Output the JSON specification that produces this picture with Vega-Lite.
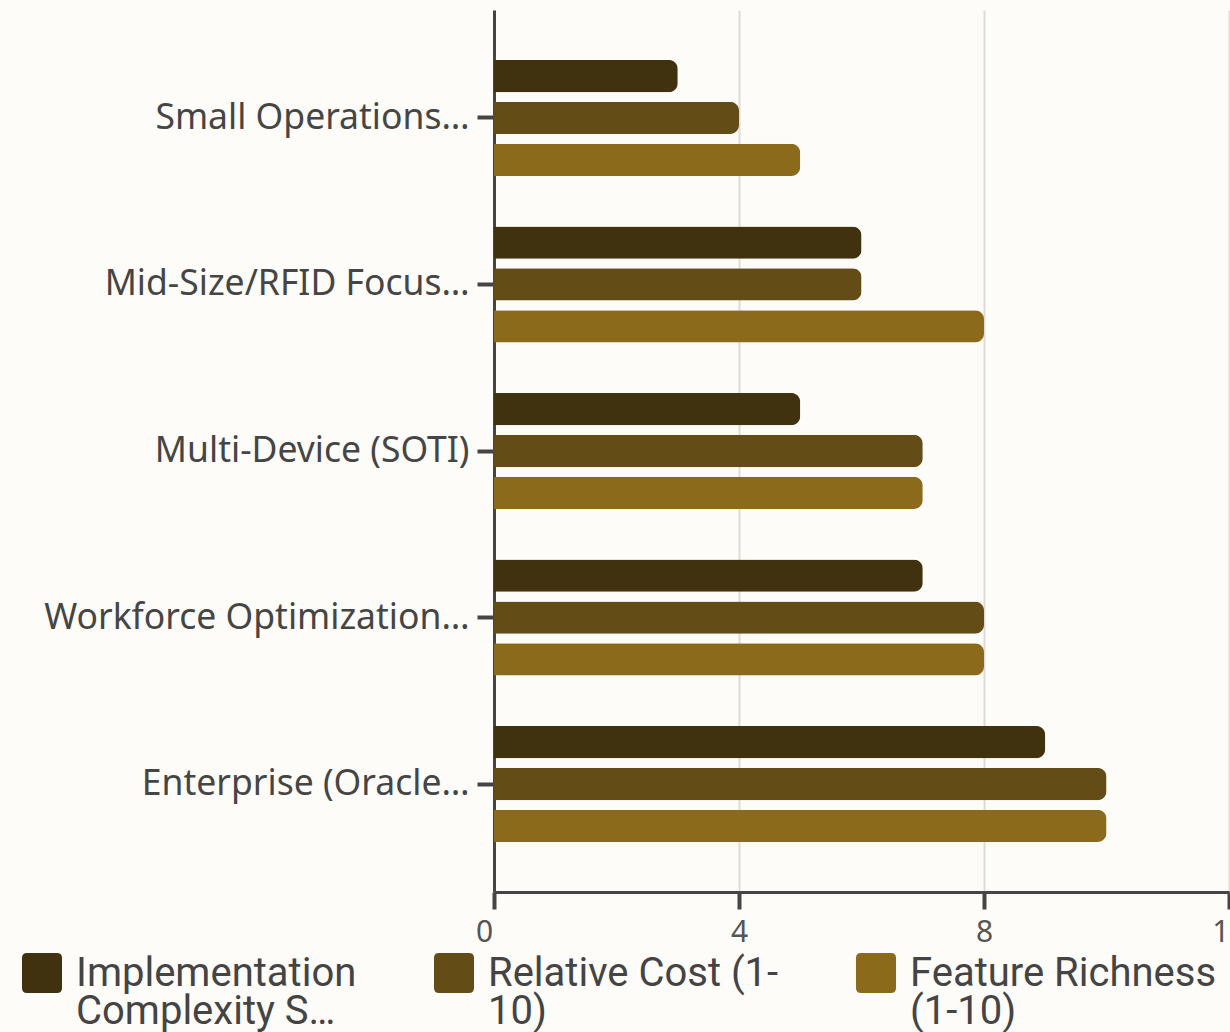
{
  "$schema": "https://vega.github.io/schema/vega-lite/v6.json",
  "width": 735,
  "height": 882,
  "autosize": "none",
  "padding": {"left": 494, "top": 10, "right": 1, "bottom": 140},
  "background": "#fdfcf9",
  "data": {
    "values": [
      {"cat": "Small Operations…", "series": "Implementation Complexity Score (1-10)", "v": 3},
      {"cat": "Small Operations…", "series": "Relative Cost (1-10)", "v": 4},
      {"cat": "Small Operations…", "series": "Feature Richness (1-10)", "v": 5},
      {"cat": "Mid-Size/RFID Focus…", "series": "Implementation Complexity Score (1-10)", "v": 6},
      {"cat": "Mid-Size/RFID Focus…", "series": "Relative Cost (1-10)", "v": 6},
      {"cat": "Mid-Size/RFID Focus…", "series": "Feature Richness (1-10)", "v": 8},
      {"cat": "Multi-Device (SOTI)", "series": "Implementation Complexity Score (1-10)", "v": 5},
      {"cat": "Multi-Device (SOTI)", "series": "Relative Cost (1-10)", "v": 7},
      {"cat": "Multi-Device (SOTI)", "series": "Feature Richness (1-10)", "v": 7},
      {"cat": "Workforce Optimization…", "series": "Implementation Complexity Score (1-10)", "v": 7},
      {"cat": "Workforce Optimization…", "series": "Relative Cost (1-10)", "v": 8},
      {"cat": "Workforce Optimization…", "series": "Feature Richness (1-10)", "v": 8},
      {"cat": "Enterprise (Oracle…", "series": "Implementation Complexity Score (1-10)", "v": 9},
      {"cat": "Enterprise (Oracle…", "series": "Relative Cost (1-10)", "v": 10},
      {"cat": "Enterprise (Oracle…", "series": "Feature Richness (1-10)", "v": 10}
    ]
  },
  "mark": {"type": "bar", "cornerRadiusEnd": 9},
  "encoding": {
    "y": {
      "field": "cat", "type": "nominal",
      "sort": ["Small Operations…", "Mid-Size/RFID Focus…", "Multi-Device (SOTI)", "Workforce Optimization…", "Enterprise (Oracle…"],
      "scale": {"paddingInner": 0.303, "paddingOuter": 0.3},
      "axis": {
        "title": null,
        "labelFont": "Noto Sans", "labelFontSize": 35.5, "labelColor": "#454545",
        "labelPadding": 8, "labelLimit": 500,
        "tickSize": 17, "tickWidth": 4, "tickColor": "#454545",
        "domainColor": "#454545", "domainWidth": 3
      }
    },
    "yOffset": {
      "field": "series", "type": "nominal",
      "sort": ["Implementation Complexity Score (1-10)", "Relative Cost (1-10)", "Feature Richness (1-10)"],
      "scale": {"paddingInner": 0.23, "paddingOuter": 0}
    },
    "x": {
      "field": "v", "type": "quantitative",
      "scale": {"domain": [0, 12], "nice": false},
      "axis": {
        "title": null, "values": [0, 4, 8, 12],
        "labelFont": "Noto Sans", "labelFontSize": 30, "labelColor": "#555555",
        "labelPadding": 8, "labelOverlap": false, "labelFlush": false,
        "labelOffset": {"condition": {"test": "datum.value === 0", "value": -10}, "value": 0},
        "tickSize": 17, "tickWidth": 4, "tickColor": "#454545",
        "domainColor": "#454545", "domainWidth": 3,
        "gridColor": "#dedbd5", "gridWidth": 2
      }
    },
    "color": {
      "field": "series", "type": "nominal",
      "sort": ["Implementation Complexity Score (1-10)", "Relative Cost (1-10)", "Feature Richness (1-10)"],
      "scale": {"range": ["#40320e", "#644c16", "#8b6a1c"]},
      "legend": {
        "title": null,
        "orient": "none", "legendX": -472, "legendY": 943,
        "direction": "horizontal", "columns": 3, "columnPadding": 77,
        "symbolType": "M-1,-0.75 Q-1,-1 -0.75,-1 L0.75,-1 Q1,-1 1,-0.75 L1,0.75 Q1,1 0.75,1 L-0.75,1 Q-1,1 -1,0.75 Z",
        "symbolSize": 1600, "symbolStrokeWidth": 0, "symbolOpacity": 1,
        "labelFont": "Roboto", "labelFontSize": 40, "labelColor": "#444444",
        "labelOffset": 14, "labelLimit": 400, "labelBaseline": "middle",
        "labelExpr": "datum.label == 'Implementation Complexity Score (1-10)' ? ['Implementation', 'Complexity S…'] : datum.label == 'Relative Cost (1-10)' ? ['Relative Cost (1-', '10)'] : ['Feature Richness', '(1-10)']",
        "encode": {"labels": {"update": {"dy": {"value": 1}, "lineHeight": {"value": 38}}}}
      }
    }
  },
  "config": {"view": {"stroke": null}}
}
